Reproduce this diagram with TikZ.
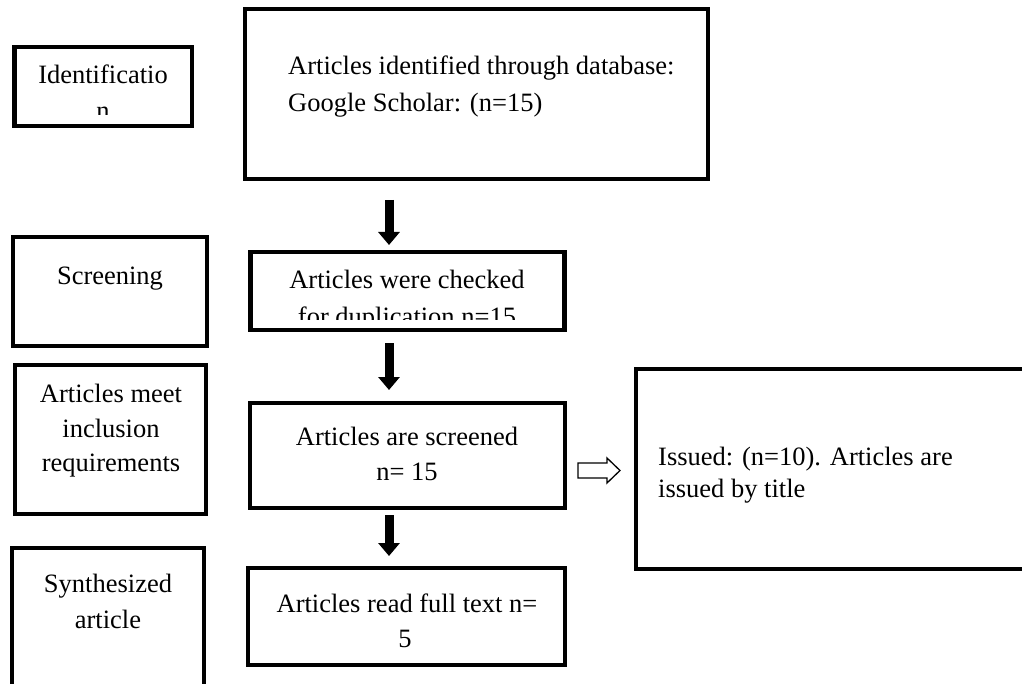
\documentclass[tikz,border=0pt]{standalone}
\usepackage{fontspec}
\setmainfont{Liberation Serif}
\usetikzlibrary{arrows.meta}
\tikzset{
  box/.style={draw, line width=4.5pt, inner sep=0pt, outer sep=0pt},
  txt/.style={inner sep=0pt, font=\fontsize{26.5}{36}\selectfont},
  blkarrow/.style={line width=9pt, -{Triangle[length=13pt,width=21pt]}},
  hollow/.style={draw, line width=1.3pt, line join=miter, fill=white}
}
\begin{document}
\begin{tikzpicture}[x=1pt,y=-1pt]
\useasboundingbox (0,0) rectangle (1022,684);
\fill[white] (0,0) rectangle (1022,684);
% boxes
\node[box, minimum width=177.5pt, minimum height=79pt] (idb) at (103.25,86.5) {};
\node[box, minimum width=463pt, minimum height=170pt] (b1) at (476.5,94) {};
\node[box, minimum width=194pt, minimum height=109pt] (scb) at (110,291.5) {};
\node[box, minimum width=314pt, minimum height=78pt] (b2) at (407.5,291) {};
\node[box, minimum width=191pt, minimum height=149pt] (meb) at (110.5,439.5) {};
\node[box, minimum width=315pt, minimum height=105pt] (b3) at (407.5,455.5) {};
\node[box, minimum width=424pt, minimum height=200pt] (rb) at (848,469) {};
\node[box, minimum width=192pt, minimum height=172pt] (syb) at (108,634) {};
\node[box, minimum width=317pt, minimum height=97pt] (b4) at (406.5,616.5) {};
% texts
\begin{scope}
\clip (14.5,47) rectangle (192,115);
\node[txt, anchor=base] (idt1) at (103,84) {Identificatio};
\node[txt, anchor=base] (idt2) at (103,120) {n};
\end{scope}
\node[txt, anchor=base west] (b1t1) at (288,75) {Articles identified through database:};
\node[txt, anchor=base west] (b1t2) at (288,112) {Google Scholar: (n=15)};
\node[txt, anchor=base] (sct) at (110,285) {Screening};
\begin{scope}
\clip (250.5,252) rectangle (564.5,320);
\node[txt, anchor=base] (b2t1) at (407,289) {Articles were checked};
\node[txt, anchor=base] (b2t2) at (407,326) {for duplication n=15};
\end{scope}
\node[txt, anchor=base] (met1) at (111,402) {Articles meet};
\node[txt, anchor=base] (met2) at (111,437) {inclusion};
\node[txt, anchor=base] (met3) at (111,471) {requirements};
\node[txt, anchor=base] (b3t1) at (407,445) {Articles are screened};
\node[txt, anchor=base] (b3t2) at (407,480) {n= 15};
\node[txt, anchor=base west] (rbt1) at (658,465) {Issued: (n=10). Articles are};
\node[txt, anchor=base west] (rbt2) at (658,497) {issued by title};
\node[txt, anchor=base] (syt1) at (108,592) {Synthesized};
\node[txt, anchor=base] (syt2) at (108,628) {article};
\node[txt, anchor=base] (b4t1) at (407,612) {Articles read full text n=};
\node[txt, anchor=base] (b4t2) at (405,647) {5};
% arrows
\coordinate (ax) at (389,0);
\draw[blkarrow, shorten <=21pt, shorten >=7pt] (b1.south -| ax) -- (b2.north -| ax);
\draw[blkarrow, shorten <=13pt, shorten >=13pt] (b2.south -| ax) -- (b3.north -| ax);
\draw[blkarrow, shorten <=7pt, shorten >=12pt] (b3.south -| ax) -- (b4.north -| ax);
\draw[hollow] (578,463) -- (607,463) -- (607,458) -- (620,470.5) -- (607,483)
  -- (607,478) -- (578,478) -- cycle;
\end{tikzpicture}
\end{document}
